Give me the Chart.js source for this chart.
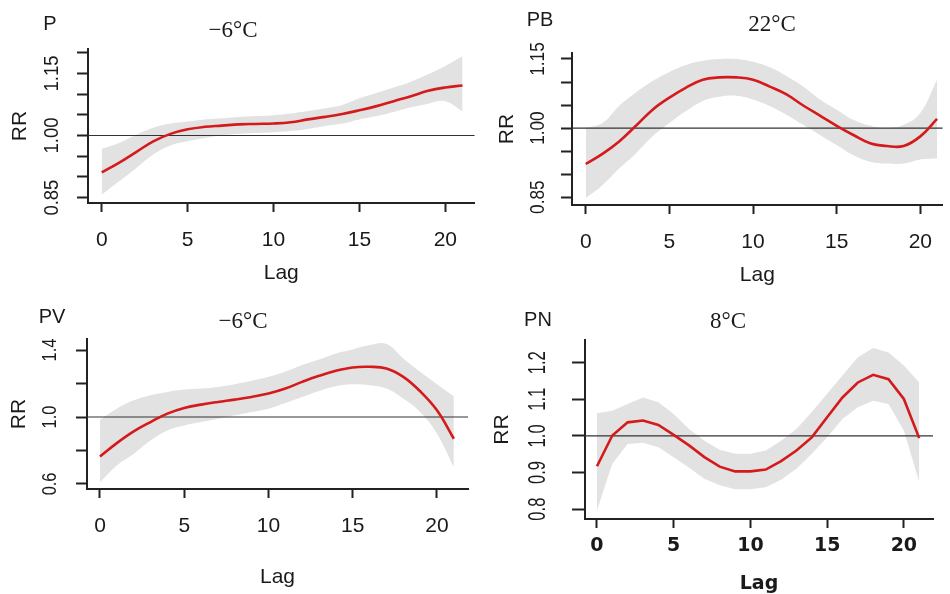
<!DOCTYPE html>
<html>
<head>
<meta charset="utf-8">
<title>RR by lag</title>
<script src="https://cdn.jsdelivr.net/npm/chart.js"></script>
<style>
  body { margin: 0; background: #fff; }
  #wrap { position: relative; width: 950px; height: 594px; overflow: hidden; }
  #wrap canvas { position: absolute; }
</style>
</head>
<body>
<div id="wrap">
  <canvas id="c1" width="475" height="297" style="left:0;top:0"></canvas>
  <canvas id="c2" width="475" height="297" style="left:475px;top:0"></canvas>
  <canvas id="c3" width="475" height="297" style="left:0;top:297px"></canvas>
  <canvas id="c4" width="475" height="297" style="left:475px;top:297px"></canvas>
</div>
<script>
// lag days
var lags = [0,1,2,3,4,5,6,7,8,9,10,11,12,13,14,15,16,17,18,19,20,21];
var xTicks = [0,5,10,15,20];

// P, -6°C
var pRR   = [0.911,0.934,0.960,0.986,1.004,1.015,1.021,1.024,1.027,1.028,1.029,1.032,1.039,1.045,1.052,1.061,1.071,1.083,1.095,1.108,1.116,1.121];
var pHigh = [0.968,0.982,1.002,1.019,1.029,1.034,1.039,1.042,1.045,1.047,1.049,1.053,1.059,1.066,1.074,1.090,1.103,1.116,1.130,1.148,1.168,1.192];
var pLow  = [0.857,0.889,0.921,0.954,0.976,0.986,0.994,1.000,1.004,1.006,1.008,1.011,1.016,1.023,1.029,1.039,1.047,1.057,1.068,1.077,1.083,1.058];
var pX = [-0.8, 21.7];
var pY = [0.837, 1.209];
var pYTicks = [0.85,0.90,0.95,1.00,1.05,1.10,1.15,1.20];
var pYLabels = ['0.85','1.00','1.15'];

// PB, 22°C
var pbRR   = [0.922,0.944,0.971,1.005,1.040,1.066,1.088,1.105,1.110,1.110,1.105,1.090,1.073,1.049,1.027,1.005,0.985,0.967,0.961,0.961,0.982,1.020];
var pbHigh = [1.000,1.011,1.048,1.077,1.102,1.122,1.137,1.146,1.150,1.150,1.144,1.132,1.113,1.090,1.062,1.040,1.018,1.005,1.000,1.007,1.033,1.105];
var pbLow  = [0.848,0.876,0.912,0.945,0.982,1.011,1.037,1.059,1.068,1.070,1.062,1.048,1.029,1.007,0.985,0.963,0.941,0.927,0.923,0.923,0.932,0.934];
var pbX = [-0.82, 21.33];
var pbY = [0.833, 1.163];
var pbYTicks = [0.85,0.90,0.95,1.00,1.05,1.10,1.15];
var pbYLabels = ['0.85','1.00','1.15'];

// PV, -6°C
var pvRR   = [0.764,0.844,0.914,0.970,1.020,1.054,1.074,1.090,1.104,1.120,1.140,1.170,1.210,1.246,1.276,1.296,1.300,1.290,1.240,1.154,1.040,0.870];
var pvHigh = [0.984,1.050,1.100,1.130,1.150,1.164,1.170,1.180,1.196,1.216,1.240,1.270,1.310,1.344,1.380,1.404,1.430,1.436,1.350,1.270,1.196,1.124];
var pvLow  = [0.610,0.710,0.780,0.860,0.920,0.950,0.970,0.990,1.010,1.030,1.050,1.084,1.120,1.156,1.184,1.196,1.190,1.170,1.110,1.030,0.900,0.700];
var pvX = [-0.77, 21.84];
var pvY = [0.570, 1.466];
var pvYTicks = [0.6,0.8,1.0,1.2,1.4];
var pvYLabels = ['0.6','1.0','1.4'];

// PN, 8°C
var pnRR   = [0.917,1.001,1.037,1.042,1.030,1.003,0.974,0.942,0.916,0.903,0.903,0.908,0.931,0.960,0.996,1.051,1.105,1.146,1.167,1.155,1.101,0.994];
var pnHigh = [1.062,1.069,1.087,1.105,1.092,1.060,1.019,0.987,0.962,0.951,0.951,0.960,0.987,1.019,1.065,1.115,1.165,1.215,1.240,1.228,1.192,1.146];
var pnLow  = [0.796,0.924,0.978,0.981,0.969,0.942,0.913,0.883,0.865,0.854,0.854,0.860,0.880,0.910,0.951,0.996,1.046,1.078,1.096,1.087,1.015,0.874];
var pnX = [-0.78, 21.9];
var pnY = [0.773, 1.262];
var pnYTicks = [0.8,0.9,1.0,1.1,1.2];
var pnYLabels = ['0.8','0.9','1.0','1.1','1.2'];

var refValue = 1.0;

var sans = {family: 'Liberation Sans, Arial, sans-serif', size: 21, lineHeight: 1};
var sansBold = {family: 'DejaVu Sans, sans-serif', size: 19, weight: 'bold', lineHeight: 1};

var panels = [
  {id: 'c1', tag: 'P', title: '\u22126\u00b0C', rr: pRR, high: pHigh, low: pLow, xr: pX, yr: pY, yTicks: pYTicks, yLabels: pYLabels,
   area: [88, 49, 475, 203], tagPos: [50, 24], titlePos: [233, 31], yLabelX: 52, yFont: 21, yStretch: 0.88, yTickLen: 11,
   xFont: sans, xPad: 18, lagPad: 13, rrPad: 10, tension: 0.4},
  {id: 'c2', tag: 'PB', title: '22\u00b0C', rr: pbRR, high: pbHigh, low: pbLow, xr: pbX, yr: pbY, yTicks: pbYTicks, yLabels: pbYLabels,
   area: [97, 53, 475, 205], tagPos: [65, 20], titlePos: [297, 25], yLabelX: 63, yFont: 21, yStretch: 0.82, yTickLen: 11,
   xFont: sans, xPad: 18, lagPad: 11, rrPad: 22, tension: 0.4},
  {id: 'c3', tag: 'PV', title: '\u22126\u00b0C', rr: pvRR, high: pvHigh, low: pvLow, xr: pvX, yr: pvY, yTicks: pvYTicks, yLabels: pvYLabels,
   area: [87, 42, 468, 192], tagPos: [52, 20], titlePos: [243, 25], yLabelX: 50, yFont: 21, yStretch: 0.78, yTickLen: 11,
   xFont: sans, xPad: 18, lagPad: 6, rrPad: 9, tension: 0.4},
  {id: 'c4', tag: 'PN', title: '8\u00b0C', rr: pnRR, high: pnHigh, low: pnLow, xr: pnX, yr: pnY, yTicks: pnYTicks, yLabels: pnYLabels,
   area: [110, 43, 458, 222], tagPos: [63, 23], titlePos: [253, 25], yLabelX: 64, yFont: 23, yStretch: 0.72, yTickLen: 13,
   xFont: sansBold, xPad: 9, lagPad: 0, rrPad: 17, tension: 0}
];

function points(arr) {
  return lags.map(function(x, i) { return {x: x, y: arr[i]}; });
}

function textPlugin(p) {
  return {
    id: 'panelText',
    beforeDatasetDraw: function(chart, args) {
      if (args.index !== 0) return;
      var ctx = chart.ctx, a = chart.chartArea;
      var y = chart.scales.y.getPixelForValue(refValue);
      ctx.save();
      ctx.strokeStyle = '#333';
      ctx.lineWidth = 1.2;
      ctx.beginPath();
      ctx.moveTo(a.left, y);
      ctx.lineTo(a.right, y);
      ctx.stroke();
      ctx.restore();
    },
    afterDraw: function(chart) {
      var ctx = chart.ctx, ys = chart.scales.y;
      ctx.save();
      ctx.fillStyle = '#1a1a1a';
      ctx.textAlign = 'center';
      ctx.textBaseline = 'middle';
      ctx.font = '20px "Liberation Sans", Arial, sans-serif';
      ctx.fillText(p.tag, p.tagPos[0], p.tagPos[1]);
      ctx.font = '23px "Liberation Serif", "Times New Roman", serif';
      ctx.fillText(p.title, p.titlePos[0], p.titlePos[1]);
      ctx.font = p.yFont + 'px "Liberation Sans", Arial, sans-serif';
      p.yLabels.forEach(function(s) {
        var py = ys.getPixelForValue(parseFloat(s));
        ctx.save();
        ctx.translate(p.yLabelX, py);
        ctx.rotate(-Math.PI / 2);
        ctx.scale(p.yStretch, 1);
        ctx.fillText(s, 0, 0);
        ctx.restore();
      });
      ctx.restore();
    }
  };
}

panels.forEach(function(p) {
  var W = 475, H = 297;
  new Chart(document.getElementById(p.id), {
    type: 'line',
    data: {
      datasets: [
        {data: points(p.rr), borderColor: '#d41a1a', borderWidth: 2.6, pointRadius: 0, tension: p.tension, fill: false},
        {data: points(p.high), borderColor: 'rgba(0,0,0,0)', borderWidth: 0, pointRadius: 0, tension: p.tension, fill: false},
        {data: points(p.low), borderColor: 'rgba(0,0,0,0)', borderWidth: 0, pointRadius: 0, tension: p.tension,
         fill: '-1', backgroundColor: '#e2e2e2'}
      ]
    },
    options: {
      responsive: false,
      animation: false,
      events: [],
      layout: {autoPadding: false, padding: {left: 0, top: p.area[1], right: W - p.area[2], bottom: 0}},
      plugins: {legend: {display: false}, tooltip: {enabled: false}},
      scales: {
        x: {
          type: 'linear', bounds: 'data', min: p.xr[0], max: p.xr[1],
          afterBuildTicks: function(s) { s.ticks = xTicks.map(function(v) { return {value: v}; }); },
          afterFit: function(s) { s.height = H - p.area[3]; },
          grid: {drawOnChartArea: false, drawTicks: true, tickLength: 9, tickWidth: 2, tickColor: '#222'},
          border: {display: true, color: '#222', width: 2},
          ticks: {autoSkip: false, maxRotation: 0, padding: p.xPad, color: '#1a1a1a', font: p.xFont},
          title: {display: true, text: 'Lag', color: '#1a1a1a', font: p.xFont, padding: {top: 0, bottom: p.lagPad}}
        },
        y: {
          type: 'linear', bounds: 'data', min: p.yr[0], max: p.yr[1],
          afterBuildTicks: function(s) { s.ticks = p.yTicks.map(function(v) { return {value: v}; }); },
          afterFit: function(s) { s.width = p.area[0]; },
          grid: {drawOnChartArea: false, drawTicks: true, tickLength: p.yTickLen, tickWidth: 2, tickColor: '#222'},
          border: {display: true, color: '#222', width: 2},
          ticks: {display: false},
          title: {display: true, text: 'RR', color: '#1a1a1a', font: sans, padding: {top: p.rrPad, bottom: 0}}
        }
      }
    },
    plugins: [textPlugin(p)]
  });
});
</script>
</body>
</html>
